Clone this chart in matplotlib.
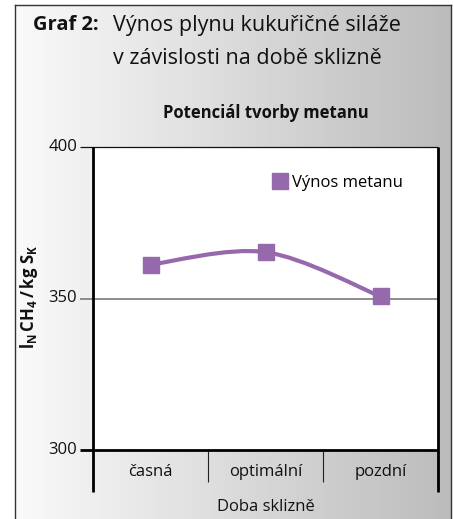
import numpy as np
import matplotlib
matplotlib.use('Agg')
import matplotlib.pyplot as plt
from matplotlib.path import Path
from matplotlib.patches import PathPatch
from matplotlib.lines import Line2D

# ── Data ──────────────────────────────────────────────────────────────
categories = ['časná', 'optimální', 'pozdní']
methane_yield = [361.2, 365.3, 350.7]
yticks = [300, 350, 400]

PURPLE = '#9669ac'
FONT = 'Open Sans'

plt.rcParams['font.family'] = [FONT, 'DejaVu Sans']
plt.rcParams['mathtext.fontset'] = 'custom'
plt.rcParams['mathtext.rm'] = FONT
plt.rcParams['mathtext.bf'] = f'{FONT}:bold'

W, H = 454, 519
fig = plt.figure(figsize=(W / 100, H / 100), dpi=100)
fig.patch.set_facecolor('white')

# ── Gradient background inside the frame ──────────────────────────────
bg = fig.add_axes([15 / W, 0, (451 - 15) / W, (H - 5) / H], zorder=-5)
grad = np.linspace(0, 1, 256).reshape(1, -1)
cmap = matplotlib.colors.LinearSegmentedColormap.from_list('bg', ['#fafafa', '#bcbcbc'])
bg.imshow(grad, aspect='auto', cmap=cmap, extent=[0, 1, 0, 1])
bg.axis('off')

# frame lines (left, top, right)
for xs, ys in [([15, 15], [5, H]), ([15, 451], [5, 5]), ([451, 451], [5, H])]:
    fig.add_artist(Line2D([x / W for x in xs], [1 - y / H for y in ys],
                          color='#333333', lw=1.0, transform=fig.transFigure))

# ── Titles ────────────────────────────────────────────────────────────
fig.text(33 / W, 1 - 25 / H, 'Graf 2:', fontsize=14.5, fontweight='bold',
         va='center', ha='left', color='#111111')
fig.text(113 / W, 1 - 25 / H, 'Výnos plynu kukuřičné siláže', fontsize=15.5,
         va='center', ha='left', color='#111111')
fig.text(113 / W, 1 - 58 / H, 'v závislosti na době sklizně', fontsize=15.5,
         va='center', ha='left', color='#111111')

# ── Main axes ─────────────────────────────────────────────────────────
ax_l, ax_r, ax_t, ax_b = 93, 438, 147, 450
ax = fig.add_axes([ax_l / W, 1 - ax_b / H, (ax_r - ax_l) / W, (ax_b - ax_t) / H])
ax.set_facecolor('white')
ax.set_xlim(-0.5, len(categories) - 0.5)
ax.set_ylim(yticks[0], yticks[-1])

for s in ax.spines.values():
    s.set_visible(False)
ax.set_xticks([])
ax.set_yticks([])

ext_x = -13 / (ax_r - ax_l)
low_spine = -42 / (ax_b - ax_t)
low_sep = -32 / (ax_b - ax_t)
tr = ax.get_yaxis_transform()

# horizontal lines incl. tick stubs
ax.plot([ext_x, 1], [yticks[0]] * 2, transform=tr, color='black', lw=2.0,
        clip_on=False, solid_capstyle='butt', zorder=4)
ax.plot([ext_x, 1], [yticks[1]] * 2, transform=tr, color='#6e6e6e', lw=1.1,
        clip_on=False, solid_capstyle='butt', zorder=1)
ax.plot([ext_x, 1], [yticks[2]] * 2, transform=tr, color='#111111', lw=0.9,
        clip_on=False, solid_capstyle='butt', zorder=4)
for v in yticks:
    ax.text(ext_x - 0.008, v, str(v), transform=tr, ha='right', va='center',
            fontsize=12, color='#111111')

# vertical spines extending below
for xa in [0, 1]:
    ax.plot([xa, xa], [low_spine, 1], transform=ax.transAxes, color='black',
            lw=2.0, clip_on=False, solid_capstyle='butt', zorder=4)
# category separators
tx = ax.get_xaxis_transform()
for xs in np.arange(0.5, len(categories) - 1, 1.0):
    ax.plot([xs, xs], [low_sep, 0], transform=tx, color='#222222', lw=0.8,
            clip_on=False, solid_capstyle='butt')
for i, c in enumerate(categories):
    ax.text(i, -22 / (ax_b - ax_t), c, transform=tx, ha='center', va='center',
            fontsize=12, color='#111111')
ax.text(0.5, -57 / (ax_b - ax_t), 'Doba sklizně', transform=ax.transAxes,
        ha='center', va='center', fontsize=12, color='#111111')

# y label
fig.text(29 / W, 1 - 297 / H, r'$\mathbf{l_N\,CH_4\,/\,kg\;S_K}$', rotation=90,
         ha='center', va='center', fontsize=12, color='#111111')

# chart title
ax.text(0.5, 1 + 34 / (ax_b - ax_t), 'Potenciál tvorby metanu',
        transform=ax.transAxes, ha='center', va='center', fontsize=12,
        fontweight='bold', color='#111111')

# ── Smoothed series (Catmull-Rom -> cubic Bezier) ─────────────────────
xs = np.arange(len(methane_yield), dtype=float)
pts = np.column_stack([xs, methane_yield])
ext = np.vstack([pts[0], pts, pts[-1]])
verts = [tuple(pts[0])]
codes = [Path.MOVETO]
for i in range(len(pts) - 1):
    p0, p1, p2, p3 = ext[i], ext[i + 1], ext[i + 2], ext[i + 3]
    c1 = p1 + (p2 - p0) / 6
    c2 = p2 - (p3 - p1) / 6
    verts += [tuple(c1), tuple(c2), tuple(p2)]
    codes += [Path.CURVE4] * 3
ax.add_patch(PathPatch(Path(verts, codes), fill=False, edgecolor=PURPLE,
                       lw=3.0, zorder=5))
ax.plot(xs, methane_yield, ls='none', marker='s', ms=11, color=PURPLE, zorder=6)

ax.legend(handles=[Line2D([], [], ls='none', marker='s', ms=11, color=PURPLE)],
          labels=['Výnos metanu'], frameon=False, loc='center left',
          bbox_to_anchor=(0.47, 0.881), handletextpad=0.1, fontsize=12,
          handlelength=1.2)

fig.savefig('out.png', dpi=100)
